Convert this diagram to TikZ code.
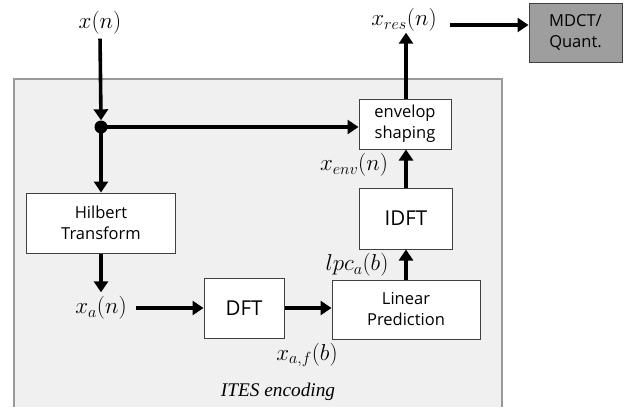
\RequirePackage{fix-cm}
\documentclass[tikz,border=0pt]{standalone}
\usepackage{fontspec}
\setsansfont{Open Sans}
\newfontfamily\captionserif{Liberation Serif}
\usetikzlibrary{arrows.meta}
\begin{document}
\begin{tikzpicture}[x=1pt,y=-1pt,
  block/.style={draw=black!75, line width=1pt, fill=white, align=center,
    inner sep=0pt, font=\sffamily\fontsize{16.5}{21}\selectfont},
  bigblock/.style={block, font=\sffamily\fontsize{20.5}{24}\selectfont},
  sig/.style={inner sep=1pt, font=\fontsize{23}{25}\selectfont},
  flow/.style={line width=3.6pt, -{Triangle[length=11pt,width=14pt]}},
]
\useasboundingbox (0,0) rectangle (629,407);

% encoder frame
\fill[black!6] (14,79) rectangle (502,407);
\draw[black!40, line width=1.2pt] (14,407) -- (14,79) -- (502,79) -- (502,407);
\node[font=\captionserif\itshape\fontsize{19.3}{21}\selectfont] (ites) at (278,392) {ITES encoding};

% processing blocks
\node[block, minimum width=149pt, minimum height=60pt] (hilbert) at (101,223) {Hilbert\\Transform};
\node[bigblock, minimum width=80pt, minimum height=60pt] (dft) at (244,308) {DFT};
\node[block, minimum width=148pt, minimum height=59pt] (lp) at (406,309.5) {Linear\\Prediction};
\node[bigblock, minimum width=93pt, minimum height=61pt] (idft) at (406,218.5) {IDFT};
\node[block, minimum width=92pt, minimum height=50pt] (env) at (405,124) {envelop\\shaping};
\node[block, fill=black!38, minimum width=93pt, minimum height=59pt] (mdct) at (575.5,32.5) {MDCT/\\Quant.};

% signal labels
\node[sig] (xn) at (100,23) {$x(n)$};
\node[sig] (xa) at (101,308) {$x_a(n)$};
\node[sig] (xaf) at (307,355) {$x_{a,f}(b)$};
\node[sig] (lpc) at (357,265) {$lpc_a(b)$};
\node[sig] (xenv) at (354,165) {$x_{env}(n)$};
\node[sig] (xres) at (404,20) {$x_{res}(n)$};

% branch point
\node[circle, fill=black, inner sep=0pt, minimum size=13pt] (split) at (101,127) {};

% connectors
\coordinate (envtop) at (env.north -| idft.north);
\draw[flow, shorten <=3pt] (xn.south) -- (split.north);
\draw[flow] (split.center) -- (split -| env.west);
\draw[flow] (split.center) -- (hilbert.north);
\draw[flow, shorten >=3pt] (hilbert.south) -- (xa.north);
\draw[flow, shorten <=8pt] (xa.east) -- (xa.east -| dft.west);
\draw[flow] (dft.east) -- (dft.east -| lp.west);
\draw[flow] (lp.north) -- (lp.north |- idft.south);
\draw[flow] (idft.north) -- (idft.north |- env.south);
\draw[flow] (envtop) -- (envtop |- xres.south);
\draw[flow, shorten <=12pt] ([yshift=-5pt]xres.east) -- ([yshift=-5pt]xres.east -| mdct.west);
\end{tikzpicture}
\end{document}
